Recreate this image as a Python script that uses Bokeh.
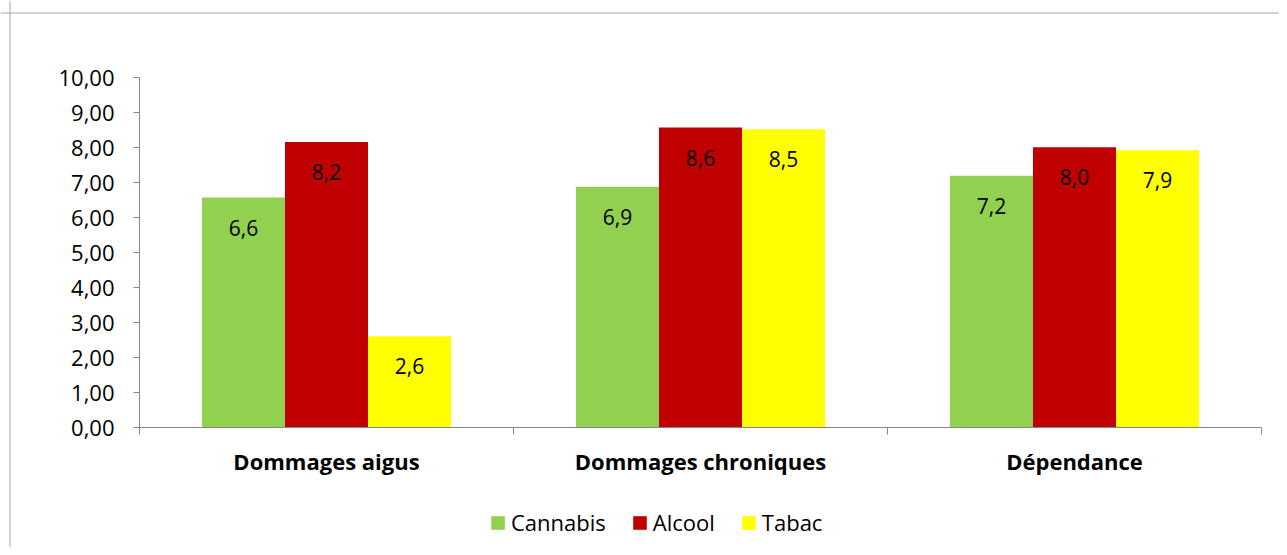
from bokeh.plotting import figure
from bokeh.models import (ColumnDataSource, Range1d, FixedTicker, Legend, LegendItem, Span)
from bokeh.transform import dodge
from bokeh.core.properties import value
from bokeh.embed import file_html
from bokeh.resources import INLINE

categories = ["Dommages aigus", "Dommages chroniques", "Dépendance"]
series = ["Cannabis", "Alcool", "Tabac"]
cannabis = [6.57, 6.88, 7.19]
alcool = [8.16, 8.57, 8.01]
tabac = [2.61, 8.52, 7.92]
colors = ["#92D050", "#C00000", "#FFFF00"]
y_ticks = [0, 1, 2, 3, 4, 5, 6, 7, 8, 9, 10]
y_tick_labels = ["0,00", "1,00", "2,00", "3,00", "4,00", "5,00",
                 "6,00", "7,00", "8,00", "9,00", "10,00"]

FONT = "Open Sans"
xpos = [i + 0.5 for i in range(len(categories))]

def fmt(v):
    return ("%.1f" % v).replace(".", ",")

src = ColumnDataSource(dict(
    x=xpos,
    Cannabis=cannabis, Alcool=alcool, Tabac=tabac,
    Cannabis_lbl=[fmt(v) for v in cannabis],
    Alcool_lbl=[fmt(v) for v in alcool],
    Tabac_lbl=[fmt(v) for v in tabac],
))

W, H = 1279, 547
# layout in pixels: plot area from x=139..1261, y=77 (value 10) .. 427 (value 0)
PX_X = (1261 - 139) / 3.0
PX_Y = (427 - 77) / 10.0
x0 = -139 / PX_X
x1 = 3 + (W - 1261) / PX_X
y1 = 10 + 77 / PX_Y
y0 = -(H - 427) / PX_Y

# frame covers the whole canvas; both axes are pinned at 0
p = figure(width=W, height=H, output_backend="svg", toolbar_location=None,
           x_range=Range1d(x0, x1), y_range=Range1d(y0, y1),
           min_border_left=0, min_border_right=0,
           min_border_top=0, min_border_bottom=0)
p.outline_line_color = None
p.xgrid.visible = False
p.ygrid.visible = False
p.background_fill_color = "white"
p.border_fill_color = "white"

# chart-area border (top and left edges visible in the reference)
p.add_layout(Span(location=y1 - 12.5 / PX_Y, dimension="width",
                  line_color="#a6a6a6", line_width=1))
p.add_layout(Span(location=x0 + 9.5 / PX_X, dimension="height",
                  line_color="#a6a6a6", line_width=1))

bw = 0.222
offsets = [-bw, 0.0, bw]
items = []
for s, c, off in zip(series, colors, offsets):
    r = p.vbar(x=dodge("x", off, range=p.x_range), top=s, width=bw, source=src,
               fill_color=c, line_color=None)
    p.text(x=dodge("x", off, range=p.x_range), y=s, text=s + "_lbl", source=src,
           y_offset=30, text_align="center", text_baseline="middle",
           text_font=value(FONT), text_font_size="21px", text_color="black")
    items.append(LegendItem(label=s, renderers=[r]))

axis_color = "#868686"
# y axis
ya = p.yaxis[0]
ya.fixed_location = 0
ya.ticker = FixedTicker(ticks=y_ticks)
ya.bounds = (0, 10)
ya.major_label_overrides = {t: l for t, l in zip(y_ticks, y_tick_labels)}
ya.axis_line_color = axis_color
ya.major_tick_line_color = axis_color
ya.major_tick_in = 0
ya.major_tick_out = 6
ya.minor_tick_line_color = None
ya.major_label_standoff = 19
ya.major_label_text_font = FONT
ya.major_label_text_font_size = "22px"
ya.major_label_text_color = "black"

# x axis
xa = p.xaxis[0]
xa.fixed_location = 0
xa.bounds = (0, 3)
xa.ticker = FixedTicker(ticks=xpos, minor_ticks=[0, 1, 2, 3])
xa.major_label_overrides = {x: c for x, c in zip(xpos, categories)}
xa.axis_line_color = axis_color
xa.major_tick_line_color = None
xa.major_tick_in = 0
xa.major_tick_out = 0
xa.minor_tick_line_color = axis_color
xa.minor_tick_in = 0
xa.minor_tick_out = 7
xa.major_label_standoff = 11
xa.major_label_text_font = FONT
xa.major_label_text_font_size = "22px"
xa.major_label_text_font_style = "bold"
xa.major_label_text_color = "black"

legend = Legend(items=items, orientation="horizontal", location=(489, 10),
                glyph_width=17, glyph_height=17, label_standoff=5, spacing=25,
                padding=0, margin=0, border_line_color=None,
                background_fill_alpha=0,
                label_text_font=FONT, label_text_font_size="22px",
                label_text_color="black")
p.add_layout(legend, "center")

open("out.html", "w").write(file_html(p, INLINE))
